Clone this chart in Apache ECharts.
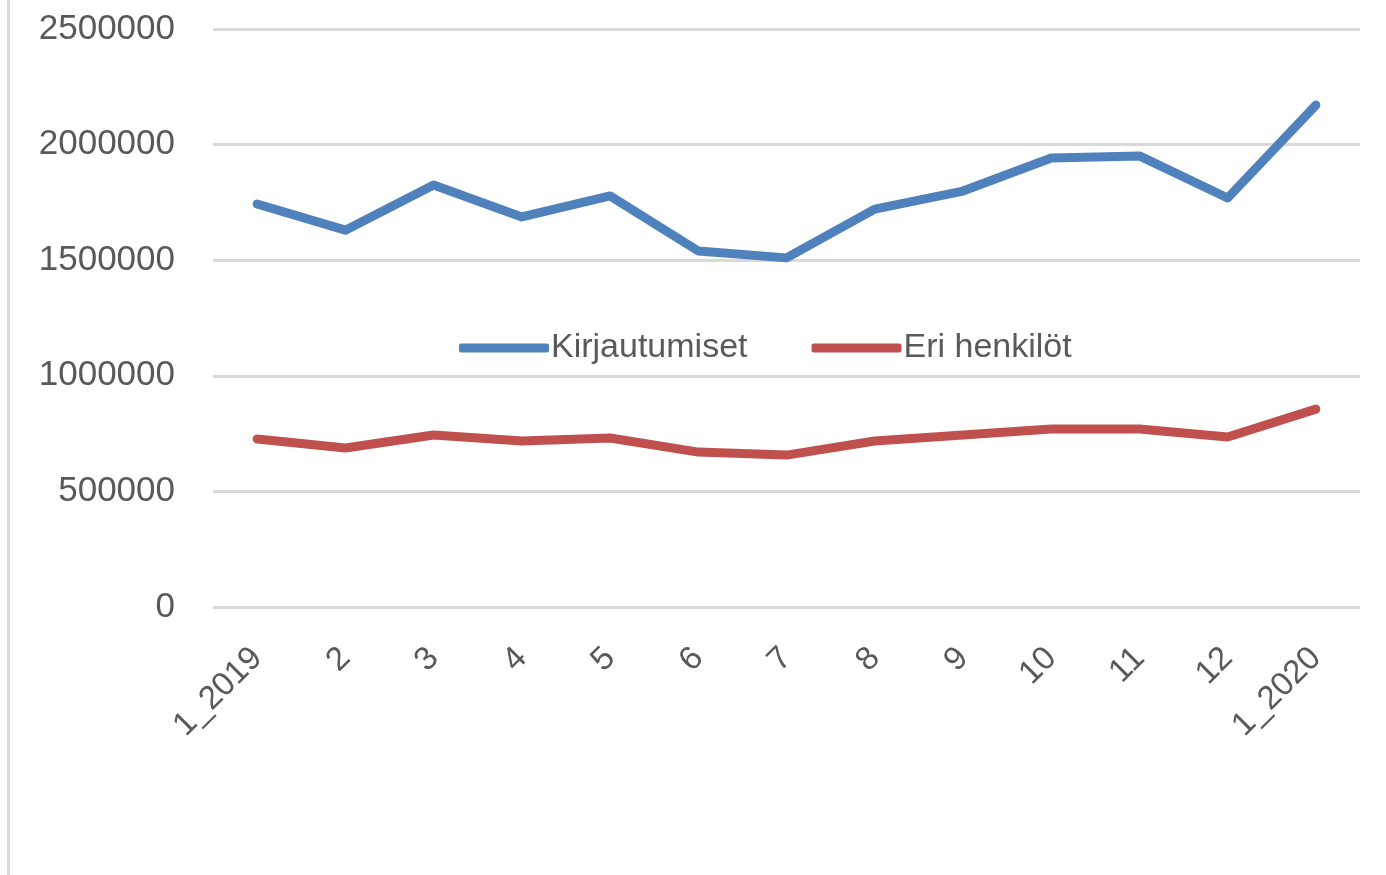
<!DOCTYPE html>
<html>
<head>
<meta charset="utf-8">
<script src="https://cdn.jsdelivr.net/npm/echarts@6/dist/echarts.min.js"></script>
<style>
  html, body { margin: 0; padding: 0; background: #ffffff; }
  #chart { width: 1386px; height: 875px; }
  #edge { position: absolute; left: 7px; top: 0; width: 3px; height: 875px; background: #d9d9d9; z-index: 10; }
</style>
</head>
<body>
<div id="chart"></div>
<div id="edge"></div>
<script>
const categories = ['1_2019', '2', '3', '4', '5', '6', '7', '8', '9', '10', '11', '12', '1_2020'];
const kirjautumiset = [1743000, 1630000, 1825000, 1687000, 1778000, 1540000, 1510000, 1721000, 1799000, 1942000, 1951000, 1769000, 2171000];
const eriHenkilot = [727000, 688000, 744000, 718000, 731000, 670000, 657000, 718000, 744000, 770000, 770000, 735000, 856000];
const seriesNames = ['Kirjautumiset', 'Eri henkilöt'];

const font = 'Liberation Sans, Arial, sans-serif';
const chart = echarts.init(document.getElementById('chart'));
chart.setOption({
  animation: false,
  backgroundColor: '#ffffff',
  grid: { left: 213, right: 26, top: 29, bottom: 268, containLabel: false },
  legend: {
    data: seriesNames,
    left: 454,
    top: 326,
    itemWidth: 90,
    itemHeight: 9,
    itemGap: 64,
    icon: 'roundRect',
    textStyle: { fontFamily: font, fontSize: 34, color: '#595959', padding: [0, 0, 0, -3] }
  },
  xAxis: {
    type: 'category',
    data: categories,
    boundaryGap: true,
    axisLine: { show: false },
    axisTick: { show: false },
    axisLabel: { rotate: 45, margin: 46, fontFamily: font, fontSize: 33, color: '#595959', interval: 0 }
  },
  yAxis: {
    type: 'value',
    min: 0,
    max: 2500000,
    interval: 500000,
    axisLine: { show: false },
    axisTick: { show: false },
    splitLine: { lineStyle: { color: '#d9d9d9', width: 3 } },
    axisLabel: { margin: 38, fontFamily: font, fontSize: 35, color: '#595959', formatter: function (v) { return String(v); } }
  },
  series: [
    {
      name: seriesNames[0], type: 'line', data: kirjautumiset,
      symbol: 'none', color: '#4f81bd',
      lineStyle: { width: 9, color: '#4f81bd', cap: 'round', join: 'round' }
    },
    {
      name: seriesNames[1], type: 'line', data: eriHenkilot,
      symbol: 'none', color: '#c0504d',
      lineStyle: { width: 9, color: '#c0504d', cap: 'round', join: 'round' }
    }
  ]
});
</script>
</body>
</html>
